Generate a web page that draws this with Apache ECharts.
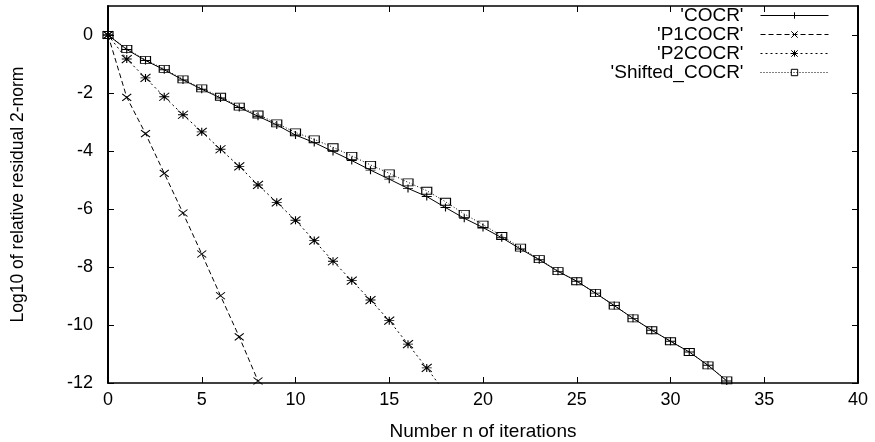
<!DOCTYPE html>
<html>
<head>
<meta charset="utf-8">
<script src="https://cdn.jsdelivr.net/npm/echarts@6/dist/echarts.min.js"></script>
<style>
html,body{margin:0;padding:0;background:#fff;}
#chart{width:875px;height:442px;}
</style>
</head>
<body>
<div id="chart"></div>
<script>
// ---- data ----
const seriesNames = ["'COCR'", "'P1COCR'", "'P2COCR'", "'Shifted_COCR'"];
const cocr = [0, -0.5, -0.88, -1.2, -1.55, -1.87, -2.17, -2.5, -2.8, -3.1, -3.45, -3.71, -4.02, -4.33, -4.66, -4.97, -5.29, -5.57, -5.95, -6.32, -6.64, -6.99, -7.38, -7.75, -8.15, -8.49, -8.9, -9.33, -9.77, -10.18, -10.56, -10.93, -11.39, -11.93];
const p1cocr = [0, -2.15, -3.4, -4.77, -6.14, -7.55, -8.99, -10.41, -11.93];
const p2cocr = [0, -0.83, -1.48, -2.13, -2.75, -3.34, -3.94, -4.53, -5.17, -5.77, -6.39, -7.09, -7.8, -8.47, -9.14, -9.85, -10.66, -11.48, -12.35];
const shiftedCocr = [0, -0.48, -0.86, -1.17, -1.53, -1.84, -2.13, -2.47, -2.74, -3.05, -3.36, -3.6, -3.87, -4.17, -4.48, -4.77, -5.08, -5.37, -5.75, -6.17, -6.54, -6.93, -7.33, -7.73, -8.14, -8.49, -8.9, -9.33, -9.77, -10.18, -10.56, -10.93, -11.39, -11.91];
const xTicks = [0, 5, 10, 15, 20, 25, 30, 35, 40];
const yTicks = [-12, -10, -8, -6, -4, -2, 0];
const xTitle = 'Number n of iterations';
const yTitle = 'Log10 of relative residual 2-norm';

// ---- helpers ----
const toPairs = arr => arr.map((v, i) => [i, v]);
const FONT = 'Liberation Sans, Arial, Helvetica, sans-serif';

const symPlus = 'path://M0,5L10,5M5,0L5,10';
const symCross = 'path://M0,0L10,10M10,0L0,10';
const symStar = 'path://M0,0L10,10M10,0L0,10M0,5L10,5M5,0L5,10';

function mkSeries(name, data, symbol, size, lineType) {
  return {
    name: name,
    type: 'line',
    data: toPairs(data),
    symbol: symbol,
    symbolSize: size,
    showAllSymbol: true,
    clip: true,
    animation: false,
    lineStyle: { color: '#000', width: 1, type: lineType },
    itemStyle: { color: 'none', borderColor: '#000', borderWidth: 1 },
    emphasis: { disabled: true }
  };
}

const chart = echarts.init(document.getElementById('chart'), null, { renderer: 'canvas' });

const baseAxisLine = w => ({ show: true, onZero: false, lineStyle: { color: '#000', width: w } });

const option = {
  backgroundColor: '#fff',
  animation: false,
  textStyle: { fontFamily: FONT },
  grid: { left: 108, right: 17, top: 6, bottom: 59, containLabel: false, outerBoundsMode: 'none' },
  legend: {
    orient: 'vertical',
    right: 41,
    top: 1,
    align: 'right',
    itemWidth: 68,
    itemHeight: 8,
    itemGap: 0,
    selectedMode: false,
    data: seriesNames,
    lineStyle: { width: 1 },
    itemStyle: { borderWidth: 1 },
    textStyle: { fontFamily: FONT, fontSize: 19, color: '#000', lineHeight: 18, padding: [0, 12, 0, 0] }
  },
  xAxis: [
    {
      type: 'value', position: 'bottom', min: 0, max: 40, interval: 5,
      axisLine: baseAxisLine(1.5),
      axisTick: { inside: true, length: 6, lineStyle: { color: '#000', width: 1 }, customValues: xTicks },
      axisLabel: { color: '#000', fontSize: 18, fontFamily: FONT, margin: 8, customValues: xTicks },
      splitLine: { show: false },
      name: xTitle, nameLocation: 'middle', nameGap: 39,
      nameTextStyle: { color: '#000', fontSize: 19, fontFamily: FONT }
    },
    {
      type: 'value', position: 'top', min: 0, max: 40, interval: 5,
      axisLine: baseAxisLine(1.5),
      axisTick: { inside: true, length: 6, lineStyle: { color: '#000', width: 1 }, customValues: xTicks },
      axisLabel: { show: false },
      splitLine: { show: false }
    }
  ],
  yAxis: [
    {
      type: 'value', position: 'left', min: -12, max: 1, interval: 2,
      axisLine: baseAxisLine(2),
      axisTick: { inside: true, length: 6, lineStyle: { color: '#000', width: 1 }, customValues: yTicks },
      axisLabel: { color: '#000', fontSize: 18, fontFamily: FONT, margin: 15, customValues: yTicks },
      splitLine: { show: false },
      name: yTitle, nameLocation: 'middle', nameGap: 81, nameRotate: 90,
      nameTextStyle: { color: '#000', fontSize: 17.5, fontFamily: FONT }
    },
    {
      type: 'value', position: 'right', min: -12, max: 1, interval: 2,
      axisLine: baseAxisLine(2),
      axisTick: { inside: true, length: 6, lineStyle: { color: '#000', width: 1 }, customValues: yTicks },
      axisLabel: { show: false },
      splitLine: { show: false }
    }
  ],
  series: [
    mkSeries(seriesNames[0], cocr, symPlus, [10, 8], 'solid'),
    mkSeries(seriesNames[1], p1cocr, symCross, [9, 7], [5, 3]),
    mkSeries(seriesNames[2], p2cocr, symStar, [10, 8], [2, 3]),
    mkSeries(seriesNames[3], shiftedCocr, 'rect', [10, 7], [1, 2])
  ]
};

chart.setOption(option);
</script>
</body>
</html>
